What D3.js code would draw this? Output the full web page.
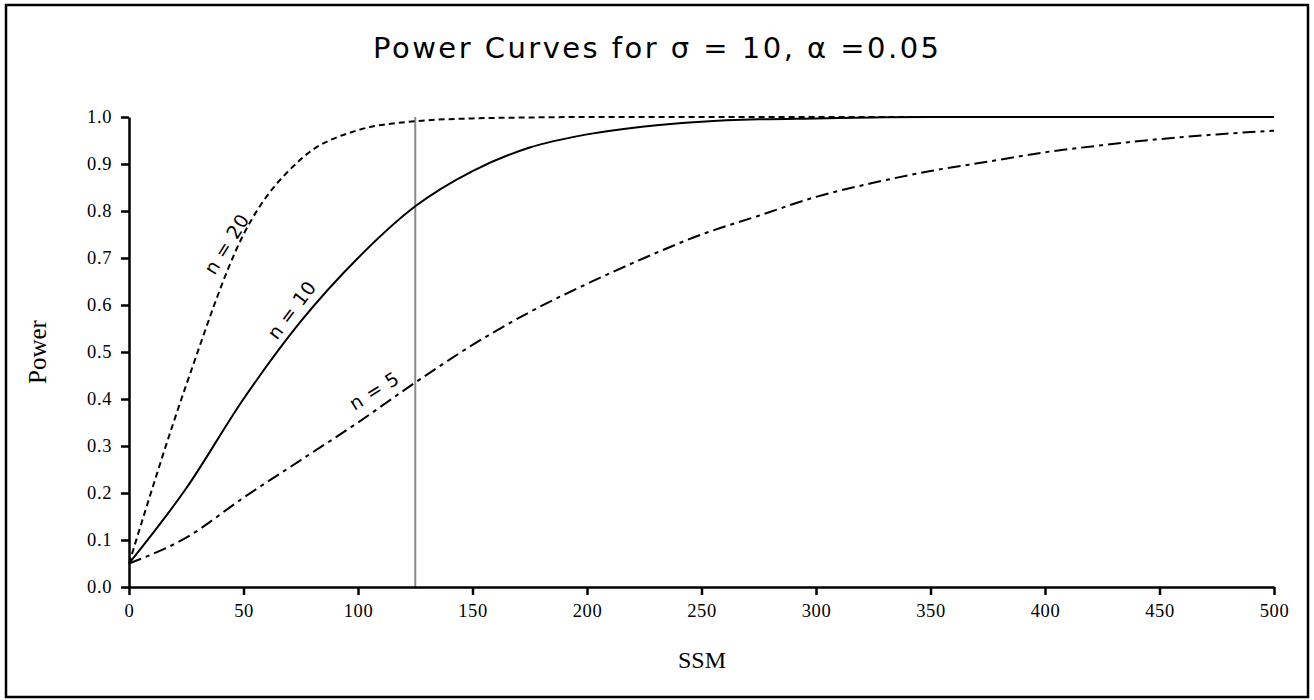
<!DOCTYPE html>
<html>
<head>
<meta charset="utf-8">
<script src="https://cdn.jsdelivr.net/npm/d3@7"></script>
<style>
  html, body { margin: 0; padding: 0; background: #fff; }
  svg { display: block; }
</style>
</head>
<body>
<svg id="chart" width="1314" height="700"></svg>
<script>
// ---- data ----
const ssm = [0, 25, 50, 75, 100, 125, 150, 175, 200, 225, 250, 275, 300, 325, 350, 375, 400, 425, 450, 475, 500];
const power_n20 = [0.05, 0.43, 0.75, 0.91, 0.972, 0.991, 0.997, 0.999, 1.0, 1.0, 1.0, 1.0, 1.0, 1.0, 1.0, 1.0, 1.0, 1.0, 1.0, 1.0, 1.0];
const power_n10 = [0.05, 0.21, 0.40, 0.565, 0.70, 0.81, 0.885, 0.935, 0.963, 0.98, 0.99, 0.995, 0.997, 0.999, 1.0, 1.0, 1.0, 1.0, 1.0, 1.0, 1.0];
const power_n5  = [0.05, 0.105, 0.19, 0.27, 0.35, 0.435, 0.515, 0.585, 0.645, 0.70, 0.75, 0.79, 0.83, 0.86, 0.885, 0.905, 0.925, 0.94, 0.953, 0.963, 0.971];
const seriesNames = ["n = 20", "n = 10", "n = 5"];
const xTicks = [0, 50, 100, 150, 200, 250, 300, 350, 400, 450, 500];
const yTicks = [0.0, 0.1, 0.2, 0.3, 0.4, 0.5, 0.6, 0.7, 0.8, 0.9, 1.0];
const markerSSM = 125;
// label anchors in data units (SSM, Power) and text angle
const labelSSM = [42.5, 71, 107];
const labelPower = [0.73, 0.59, 0.418];
const labelAngle = [-58, -53, -32];

const titleText = "Power Curves for \u03C3 = 10, \u03B1 =0.05";
const xTitle = "SSM";
const yTitle = "Power";

(function () {
// ---- layout ----
const svg = d3.select("#chart");
const mLeft = 129, mRight = 1274, mTop = 117, mBottom = 587;

svg.append("rect")
  .attr("x", 6).attr("y", 5).attr("width", 1302).attr("height", 692)
  .attr("fill", "#fff").attr("stroke", "#000").attr("stroke-width", 2.5);

const x = d3.scaleLinear().domain([0, 500]).range([mLeft, mRight]);
const y = d3.scaleLinear().domain([0, 1]).range([mBottom, mTop]);

// title
svg.append("text")
  .attr("x", 656).attr("y", 58)
  .attr("text-anchor", "middle")
  .attr("font-family", "DejaVu Sans, sans-serif")
  .attr("font-size", 29)
  .attr("textLength", 566)
  .attr("lengthAdjust", "spacing")
  .attr("fill", "#000")
  .text(titleText);

// marker vertical line
svg.append("line")
  .attr("x1", x(markerSSM)).attr("x2", x(markerSSM))
  .attr("y1", y(0)).attr("y2", y(1))
  .attr("stroke", "#8a8a8a").attr("stroke-width", 2);

// curves
const series = [power_n20, power_n10, power_n5];
const dashes = ["6,4", null, "13,5,4,5"];
const line = d3.line()
  .x((d, i) => x(ssm[i]))
  .y(d => y(d))
  .curve(d3.curveMonotoneX);

series.forEach((vals, k) => {
  svg.append("path")
    .datum(vals)
    .attr("d", line)
    .attr("fill", "none")
    .attr("stroke", "#000")
    .attr("stroke-width", 2)
    .attr("stroke-dasharray", dashes[k]);
});

// curve labels
seriesNames.forEach((name, k) => {
  const px = x(labelSSM[k]), py = y(labelPower[k]);
  svg.append("text")
    .attr("transform", `translate(${px},${py}) rotate(${labelAngle[k]})`)
    .attr("text-anchor", "middle")
    .attr("dominant-baseline", "central")
    .attr("font-family", "DejaVu Sans, sans-serif")
    .attr("font-size", 19)
    .attr("letter-spacing", 0.5)
    .attr("fill", "#000")
    .text(name);
});

// axes
const xAxis = d3.axisBottom(x).tickValues(xTicks).tickSize(8).tickSizeOuter(0).tickPadding(9)
  .tickFormat(d3.format("d"));
const yAxis = d3.axisLeft(y).tickValues(yTicks).tickSize(8).tickSizeOuter(0).tickPadding(9)
  .tickFormat(d3.format(".1f"));

const gx = svg.append("g").attr("transform", `translate(0,${mBottom})`).call(xAxis);
const gy = svg.append("g").attr("transform", `translate(${mLeft},0)`).call(yAxis);

[gx, gy].forEach(g => {
  g.select(".domain").attr("stroke", "#000").attr("stroke-width", 2.5);
  g.selectAll(".tick line").attr("stroke", "#000").attr("stroke-width", 2.5);
  g.selectAll(".tick text")
    .attr("font-family", "Liberation Serif, Times New Roman, serif")
    .attr("font-size", 18.5)
    .attr("letter-spacing", 0.6)
    .attr("fill", "#000");
});

// axis titles
svg.append("text")
  .attr("x", 702).attr("y", 668)
  .attr("text-anchor", "middle")
  .attr("font-family", "Liberation Serif, Times New Roman, serif")
  .attr("font-size", 24)
  .attr("fill", "#000")
  .text(xTitle);

svg.append("text")
  .attr("transform", "translate(46,352) rotate(-90)")
  .attr("text-anchor", "middle")
  .attr("font-family", "Liberation Serif, Times New Roman, serif")
  .attr("font-size", 25)
  .attr("fill", "#000")
  .text(yTitle);
})();
</script>
</body>
</html>
